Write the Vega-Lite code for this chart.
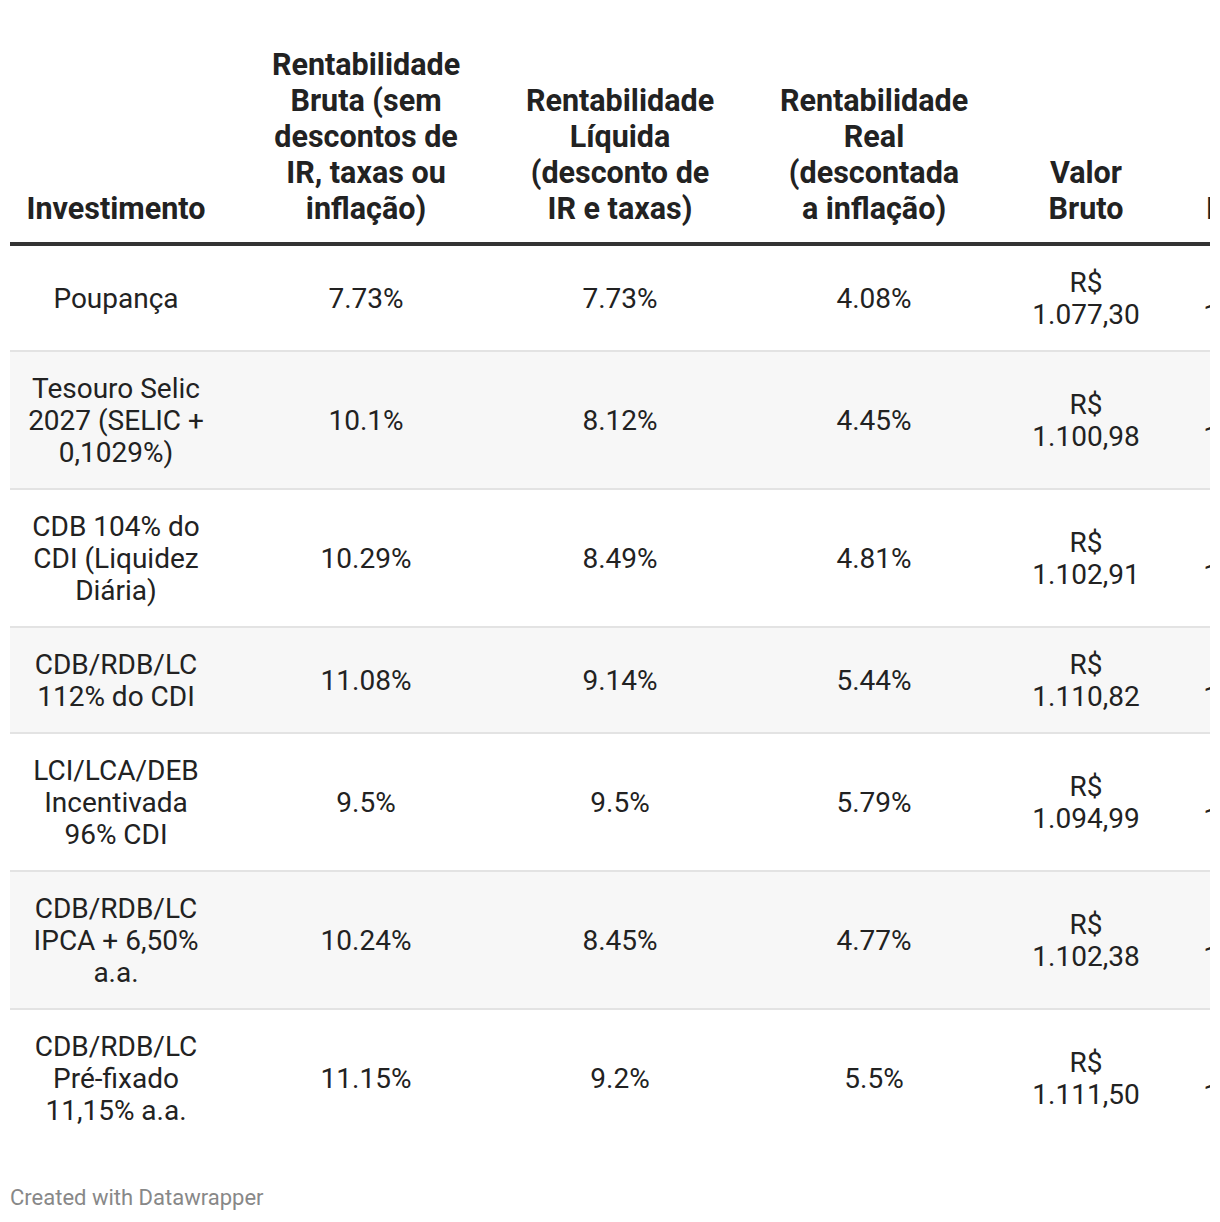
{
  "$schema": "https://vega.github.io/schema/vega-lite/v6.json",
  "width": 1200,
  "height": 1222,
  "autosize": {"type": "none"},
  "padding": {"left": 10, "top": 0, "right": 0, "bottom": 0},
  "background": "white",
  "config": {"view": {"stroke": null}, "text": {"font": "Roboto"}},
  "datasets": {
    "tabela": [
      {"ordem": 1, "investimento": "Poupança", "bruta": "7.73%", "liquida": "7.73%", "real": "4.08%", "valor_bruto": "R$\n1.077,30", "valor_liquido": "R$\n1.077,30"},
      {"ordem": 2, "investimento": "Tesouro Selic\n2027 (SELIC +\n0,1029%)", "bruta": "10.1%", "liquida": "8.12%", "real": "4.45%", "valor_bruto": "R$\n1.100,98", "valor_liquido": "R$\n1.081,20"},
      {"ordem": 3, "investimento": "CDB 104% do\nCDI (Liquidez\nDiária)", "bruta": "10.29%", "liquida": "8.49%", "real": "4.81%", "valor_bruto": "R$\n1.102,91", "valor_liquido": "R$\n1.084,90"},
      {"ordem": 4, "investimento": "CDB/RDB/LC\n112% do CDI", "bruta": "11.08%", "liquida": "9.14%", "real": "5.44%", "valor_bruto": "R$\n1.110,82", "valor_liquido": "R$\n1.091,40"},
      {"ordem": 5, "investimento": "LCI/LCA/DEB\nIncentivada\n96% CDI", "bruta": "9.5%", "liquida": "9.5%", "real": "5.79%", "valor_bruto": "R$\n1.094,99", "valor_liquido": "R$\n1.094,99"},
      {"ordem": 6, "investimento": "CDB/RDB/LC\nIPCA + 6,50%\na.a.", "bruta": "10.24%", "liquida": "8.45%", "real": "4.77%", "valor_bruto": "R$\n1.102,38", "valor_liquido": "R$\n1.084,50"},
      {"ordem": 7, "investimento": "CDB/RDB/LC\nPré-fixado\n11,15% a.a.", "bruta": "11.15%", "liquida": "9.2%", "real": "5.5%", "valor_bruto": "R$\n1.111,50", "valor_liquido": "R$\n1.092,00"}
    ],
    "cabecalho": [
      {"coluna": 1, "titulo": "Investimento"},
      {"coluna": 2, "titulo": "Rentabilidade\nBruta (sem\ndescontos de\nIR, taxas ou\ninflação)"},
      {"coluna": 3, "titulo": "Rentabilidade\nLíquida\n(desconto de\nIR e taxas)"},
      {"coluna": 4, "titulo": "Rentabilidade\nReal\n(descontada\na inflação)"},
      {"coluna": 5, "titulo": "Valor\nBruto"},
      {"coluna": 6, "titulo": "Valor\nLíquido"}
    ],
    "rodape": [{"nota": "Created with Datawrapper"}]
  },
  "data": {"name": "tabela"},
  "layer": [
    {
      "transform": [{"filter": "datum.ordem < 7"}],
      "mark": {"type": "rule", "color": "#e3e3e3", "strokeCap": "butt"},
      "encoding": {
        "y": {"field": "ordem", "type": "quantitative", "axis": null, "scale": {"domain": [0, 0.5, 1, 2, 3, 4, 5, 6, 7, 8], "range": [208, 244, 298, 420, 558, 680, 802, 940, 1078, 1198], "zero": false, "nice": false}},
        "strokeWidth": {"field": "ordem", "type": "quantitative", "legend": null, "scale": {"domain": [1, 2, 3, 4, 5, 6, 7], "range": [108, 140, 140, 108, 140, 140, 140], "zero": false, "nice": false}}
      }
    },
    {
      "mark": {"type": "rule", "color": "#ffffff", "strokeCap": "butt"},
      "encoding": {
        "y": {"field": "ordem", "type": "quantitative", "axis": null},
        "strokeWidth": {"field": "ordem", "type": "quantitative", "legend": null, "scale": {"domain": [1, 2, 3, 4, 5, 6, 7], "range": [104, 136, 136, 104, 136, 136, 136], "zero": false, "nice": false}}
      }
    },
    {
      "transform": [{"filter": "datum.ordem % 2 == 0"}],
      "mark": {"type": "rule", "color": "#f7f7f7", "strokeCap": "butt"},
      "encoding": {
        "y": {"field": "ordem", "type": "quantitative", "axis": null},
        "strokeWidth": {"field": "ordem", "type": "quantitative", "legend": null, "scale": {"domain": [1, 2, 3, 4, 5, 6, 7], "range": [104, 136, 136, 104, 136, 136, 136], "zero": false, "nice": false}}
      }
    },
    {
      "data": {"values": [{"regua": "cabecalho"}]},
      "mark": {"type": "rule", "color": "#333333", "strokeWidth": 4, "strokeCap": "butt"},
      "encoding": {
        "y": {"datum": 0.5, "type": "quantitative", "axis": null}
      }
    },
    {
      "transform": [{"filter": "length(split(datum.investimento, '\\n')) == 1"}],
      "mark": {"type": "text", "fontSize": 28, "lineHeight": 32, "lineBreak": "\n", "color": "#222222", "align": "center", "baseline": "middle", "dy": 2, "clip": true},
      "encoding": {
        "x": {"datum": 1, "type": "quantitative", "axis": null, "scale": {"domain": [0, 1, 2, 3, 4, 5, 6], "range": [0, 106, 356, 610, 864, 1076, 1247], "zero": false, "nice": false}},
        "y": {"field": "ordem", "type": "quantitative", "axis": null},
        "text": {"field": "investimento", "type": "nominal"}
      }
    },
    {
      "transform": [{"filter": "length(split(datum.investimento, '\\n')) == 2"}],
      "mark": {"type": "text", "fontSize": 28, "lineHeight": 32, "lineBreak": "\n", "color": "#222222", "align": "center", "baseline": "middle", "dy": -14, "clip": true},
      "encoding": {
        "x": {"datum": 1, "type": "quantitative", "axis": null},
        "y": {"field": "ordem", "type": "quantitative", "axis": null},
        "text": {"field": "investimento", "type": "nominal"}
      }
    },
    {
      "transform": [{"filter": "length(split(datum.investimento, '\\n')) == 3"}],
      "mark": {"type": "text", "fontSize": 28, "lineHeight": 32, "lineBreak": "\n", "color": "#222222", "align": "center", "baseline": "middle", "dy": -30, "clip": true},
      "encoding": {
        "x": {"datum": 1, "type": "quantitative", "axis": null},
        "y": {"field": "ordem", "type": "quantitative", "axis": null},
        "text": {"field": "investimento", "type": "nominal"}
      }
    },
    {
      "mark": {"type": "text", "fontSize": 28, "color": "#222222", "align": "center", "baseline": "middle", "dy": 2, "clip": true},
      "encoding": {
        "x": {"datum": 2, "type": "quantitative", "axis": null},
        "y": {"field": "ordem", "type": "quantitative", "axis": null},
        "text": {"field": "bruta", "type": "nominal"}
      }
    },
    {
      "mark": {"type": "text", "fontSize": 28, "color": "#222222", "align": "center", "baseline": "middle", "dy": 2, "clip": true},
      "encoding": {
        "x": {"datum": 3, "type": "quantitative", "axis": null},
        "y": {"field": "ordem", "type": "quantitative", "axis": null},
        "text": {"field": "liquida", "type": "nominal"}
      }
    },
    {
      "mark": {"type": "text", "fontSize": 28, "color": "#222222", "align": "center", "baseline": "middle", "dy": 2, "clip": true},
      "encoding": {
        "x": {"datum": 4, "type": "quantitative", "axis": null},
        "y": {"field": "ordem", "type": "quantitative", "axis": null},
        "text": {"field": "real", "type": "nominal"}
      }
    },
    {
      "mark": {"type": "text", "fontSize": 28, "lineHeight": 32, "lineBreak": "\n", "color": "#222222", "align": "center", "baseline": "middle", "dy": -14, "clip": true},
      "encoding": {
        "x": {"datum": 5, "type": "quantitative", "axis": null},
        "y": {"field": "ordem", "type": "quantitative", "axis": null},
        "text": {"field": "valor_bruto", "type": "nominal"}
      }
    },
    {
      "mark": {"type": "text", "fontSize": 28, "lineHeight": 32, "lineBreak": "\n", "color": "#222222", "align": "center", "baseline": "middle", "dy": -14, "clip": true},
      "encoding": {
        "x": {"datum": 6, "type": "quantitative", "axis": null},
        "y": {"field": "ordem", "type": "quantitative", "axis": null},
        "text": {"field": "valor_liquido", "type": "nominal"}
      }
    },
    {
      "data": {"name": "cabecalho"},
      "transform": [{"filter": "length(split(datum.titulo, '\\n')) == 1"}],
      "mark": {"type": "text", "fontSize": 30.5, "fontWeight": "bold", "lineHeight": 36, "lineBreak": "\n", "color": "#222222", "align": "center", "baseline": "middle", "dy": 2, "clip": true},
      "encoding": {
        "x": {"field": "coluna", "type": "quantitative", "axis": null},
        "y": {"datum": 0, "type": "quantitative", "axis": null},
        "text": {"field": "titulo", "type": "nominal"}
      }
    },
    {
      "data": {"name": "cabecalho"},
      "transform": [{"filter": "length(split(datum.titulo, '\\n')) == 2"}],
      "mark": {"type": "text", "fontSize": 30.5, "fontWeight": "bold", "lineHeight": 36, "lineBreak": "\n", "color": "#222222", "align": "center", "baseline": "middle", "dy": -34, "clip": true},
      "encoding": {
        "x": {"field": "coluna", "type": "quantitative", "axis": null},
        "y": {"datum": 0, "type": "quantitative", "axis": null},
        "text": {"field": "titulo", "type": "nominal"}
      }
    },
    {
      "data": {"name": "cabecalho"},
      "transform": [{"filter": "length(split(datum.titulo, '\\n')) == 4"}],
      "mark": {"type": "text", "fontSize": 30.5, "fontWeight": "bold", "lineHeight": 36, "lineBreak": "\n", "color": "#222222", "align": "center", "baseline": "middle", "dy": -106, "clip": true},
      "encoding": {
        "x": {"field": "coluna", "type": "quantitative", "axis": null},
        "y": {"datum": 0, "type": "quantitative", "axis": null},
        "text": {"field": "titulo", "type": "nominal"}
      }
    },
    {
      "data": {"name": "cabecalho"},
      "transform": [{"filter": "length(split(datum.titulo, '\\n')) == 5"}],
      "mark": {"type": "text", "fontSize": 30.5, "fontWeight": "bold", "lineHeight": 36, "lineBreak": "\n", "color": "#222222", "align": "center", "baseline": "middle", "dy": -142, "clip": true},
      "encoding": {
        "x": {"field": "coluna", "type": "quantitative", "axis": null},
        "y": {"datum": 0, "type": "quantitative", "axis": null},
        "text": {"field": "titulo", "type": "nominal"}
      }
    },
    {
      "data": {"name": "rodape"},
      "mark": {"type": "text", "fontSize": 22, "color": "#888888", "align": "left", "baseline": "middle"},
      "encoding": {
        "x": {"datum": 0, "type": "quantitative", "axis": null},
        "y": {"datum": 8, "type": "quantitative", "axis": null},
        "text": {"field": "nota", "type": "nominal"}
      }
    }
  ],
  "resolve": {"scale": {"strokeWidth": "independent"}}
}
